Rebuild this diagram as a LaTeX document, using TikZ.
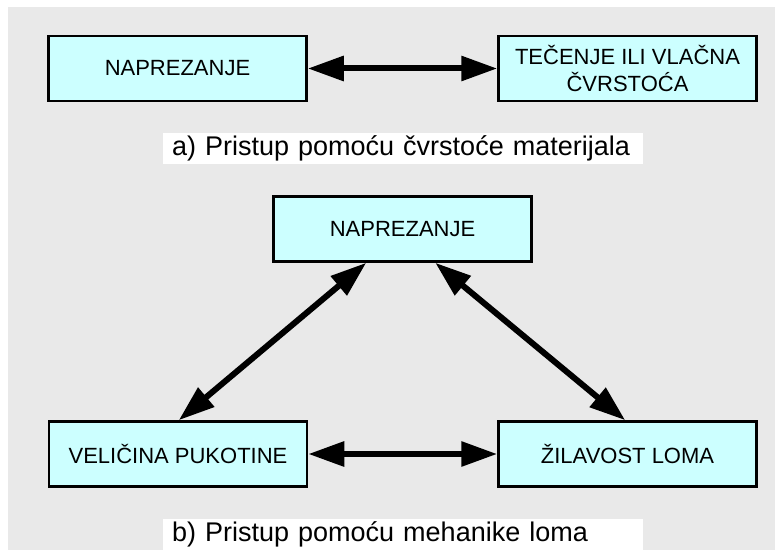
\documentclass[tikz,border=0pt]{standalone}
\usepackage{fontspec}
\setmainfont{Liberation Sans}
\usetikzlibrary{arrows.meta}
\definecolor{bgmarble}{RGB}{233,233,233}
\definecolor{boxcyan}{RGB}{204,255,255}
\tikzset{
  box/.style={draw=black, line width=2.5pt, fill=boxcyan, minimum width=258pt, minimum height=65pt,
    inner sep=0pt, align=center, font=\fontsize{22}{27}\selectfont},
  lbl/.style={fill=white, minimum height=31pt, text width=462pt, inner xsep=9pt, inner ysep=0pt,
    align=left, font=\fontsize{27}{30}\selectfont, anchor=west},
  dbl/.style={line width=6pt, {Triangle[length=36pt,width=24pt]}-{Triangle[length=36pt,width=24pt]}}
}
\begin{document}
\begin{tikzpicture}[x=1pt,y=-1pt]
\useasboundingbox (0,0) rectangle (775,553);
\fill[white] (0,0) rectangle (775,553);
\fill[bgmarble] (8,7) rectangle (775,550);
% part a
\node[box] (na) at (177.5,68.5) {NAPREZANJE};
\node[box] (tv) at (627.5,68.5) {TEČENJE ILI VLAČNA\\ČVRSTOĆA};
\draw[dbl] (na.east) -- (tv.west);
\node[lbl] (la) at (163,148.5) {a) Pristup pomoću čvrstoće materijala};
% part b
\node[box] (nb) at (402.5,229) {NAPREZANJE};
\node[box] (vp) at (178,454) {VELIČINA PUKOTINE};
\node[box] (zl) at (627.5,454) {ŽILAVOST LOMA};
\draw[dbl] ([xshift=94pt]nb.south west) -- ([xshift=131pt]vp.north west);
\draw[dbl] ([xshift=163pt]nb.south west) -- ([xshift=128pt]zl.north west);
\draw[dbl] (vp.east) -- (zl.west);
\node[lbl] (lb) at (163,534) {b) Pristup pomoću mehanike loma};
\end{tikzpicture}
\end{document}
